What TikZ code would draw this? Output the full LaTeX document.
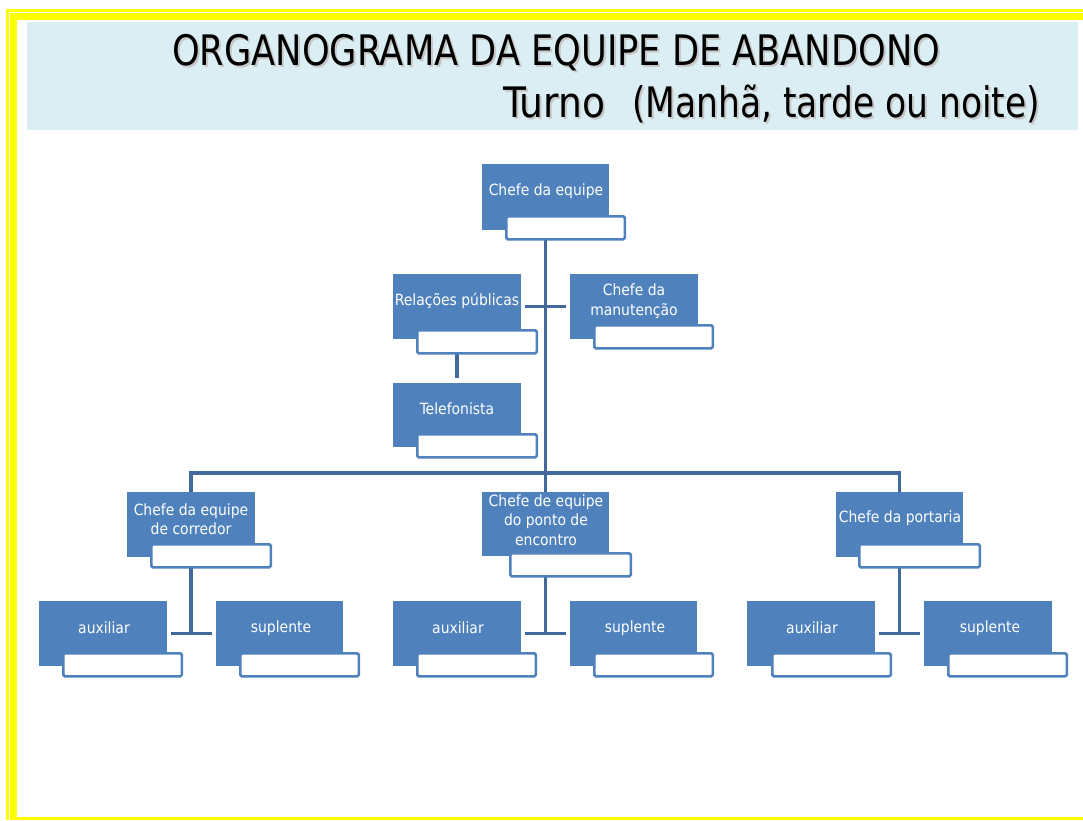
\documentclass[tikz,border=0pt]{standalone}
\usepackage{fontspec}
\setmainfont{DejaVu Sans Condensed}
\usetikzlibrary{backgrounds,calc}
\definecolor{boxblue}{HTML}{4F81BD}
\definecolor{linblue}{HTML}{41699B}
\definecolor{titlebg}{HTML}{DAEEF3}
\definecolor{brdyellow}{HTML}{FFFF00}
\tikzset{
  bluebox/.style={fill=boxblue, draw=none, inner sep=0, outer sep=0, anchor=north west},
  whitebox/.style={fill=white, draw=boxblue, line width=2.5pt, rounded corners=1.5pt, inner sep=0, outer sep=0, anchor=north west},
  lbl/.style={text=white, font=\fontsize{15.5}{19.5}\selectfont, align=center, inner sep=0},
  conn/.style={draw=linblue, line width=3.5pt},
  ttl/.style={font=\fontsize{42}{48}\selectfont, inner sep=0, anchor=base west},
}
\begin{document}
\begin{tikzpicture}[x=1pt,y=-1pt]
\useasboundingbox (0,0) rectangle (1083,820);
% yellow frame
\fill[brdyellow] (6,9) rectangle (1083,11.5);
\fill[brdyellow] (10,13) rectangle (1083,20);
\fill[brdyellow] (6,9) rectangle (9,820);
\fill[brdyellow] (10,13) rectangle (17,817);
\fill[brdyellow] (10,817) rectangle (1083,820);
% title band
\node[fill=titlebg, inner sep=0, anchor=north west, minimum width=1051, minimum height=108] (band) at (27,22) {};
\node[ttl, text=black!22] (t1s) at (174,67) {\resizebox{768pt}{\height}{ORGANOGRAMA DA EQUIPE DE ABANDONO}};
\node[ttl] (t1) at (172,65) {\resizebox{768pt}{\height}{ORGANOGRAMA DA EQUIPE DE ABANDONO}};
\node[ttl, text=black!22] (t2s) at (505,119) {\resizebox{102pt}{\height}{Turno}};
\node[ttl] (t2) at (503,117) {\resizebox{102pt}{\height}{Turno}};
\node[ttl, text=black!22] (t3s) at (634,119) {\resizebox{408pt}{\height}{(Manhã, tarde ou noite)}};
\node[ttl] (t3) at (632,117) {\resizebox{408pt}{\height}{(Manhã, tarde ou noite)}};
% boxes
\newcommand\orgbox[8]{%
  \node[bluebox, minimum width=#4, minimum height=#5] (#1) at (#2,#3) {};
  \node[whitebox, minimum width=#8-2.5, minimum height=23] (#1w) at (#6+1.25,#7+1.25) {};
}
\orgbox{ce}{482}{164}{127}{66}{505}{215}{121}
\orgbox{rp}{393}{274}{128}{65}{416}{329}{122}
\orgbox{mt}{570}{274}{128}{65}{593}{324}{121}
\orgbox{tf}{393}{383}{128}{64}{416}{433}{122}
\orgbox{cor}{127}{492}{128}{65}{150}{543}{122}
\orgbox{pe}{482}{492}{127}{64}{509}{552}{123}
\orgbox{po}{836}{492}{127}{65}{858}{543}{123}
\orgbox{aa}{39}{601}{128}{65}{62}{652}{121}
\orgbox{sa}{216}{601}{127}{65}{239}{652}{121}
\orgbox{ab}{393}{601}{128}{65}{416}{652}{121}
\orgbox{sb}{570}{601}{127}{65}{593}{652}{121}
\orgbox{ac}{747}{601}{128}{65}{771}{652}{121}
\orgbox{sc}{924}{601}{128}{65}{947}{652}{121}
% labels
\node[lbl] (cet) at (546,191) {Chefe da equipe};
\node[lbl] (rpt) at (457,301) {Relações públicas};
\node[lbl] (mtt) at (634,301) {Chefe da\\manutenção};
\node[lbl] (tft) at (457,409) {Telefonista};
\node[lbl] (cort) at (191,519) {Chefe da equipe\\de corredor};
\node[lbl] (pet) at (546,520) {Chefe de equipe\\do ponto de\\encontro};
\node[lbl] (pot) at (900,518) {Chefe da portaria};
\node[lbl] (aat) at (104,628) {auxiliar};
\node[lbl] (sat) at (281,628) {suplente};
\node[lbl] (abt) at (458,628) {auxiliar};
\node[lbl] (sbt) at (635,628) {suplente};
\node[lbl] (act) at (812,628) {auxiliar};
\node[lbl] (sct) at (990,628) {suplente};
% connectors
\coordinate (bar) at (546,473);
\begin{scope}[on background layer]
\fill[white] (0,0) rectangle (1083,820);
\draw[conn] (ce.center) -- (pe.center);
\draw[conn] (cor.center) |- (bar) -| (po.center);
\draw[conn] ($(rp.east)+(4,0)$) -- ($(mt.west)+(-4,0)$);
\draw[conn] (tf.north |- rpw.center) -- ($(tf.north)+(0,-5)$);
\draw[conn] (cor.center) -- (cor.center |- aa.east);
\draw[conn] ($(aa.east)+(4,0)$) -- ($(sa.west)+(-4,0)$);
\draw[conn] (pe.center) -- (pe.center |- ab.east);
\draw[conn] ($(ab.east)+(4,0)$) -- ($(sb.west)+(-4,0)$);
\draw[conn] (po.center) -- (po.center |- ac.east);
\draw[conn] ($(ac.east)+(4,0)$) -- ($(sc.west)+(-4,0)$);
\end{scope}
\end{tikzpicture}
\end{document}
